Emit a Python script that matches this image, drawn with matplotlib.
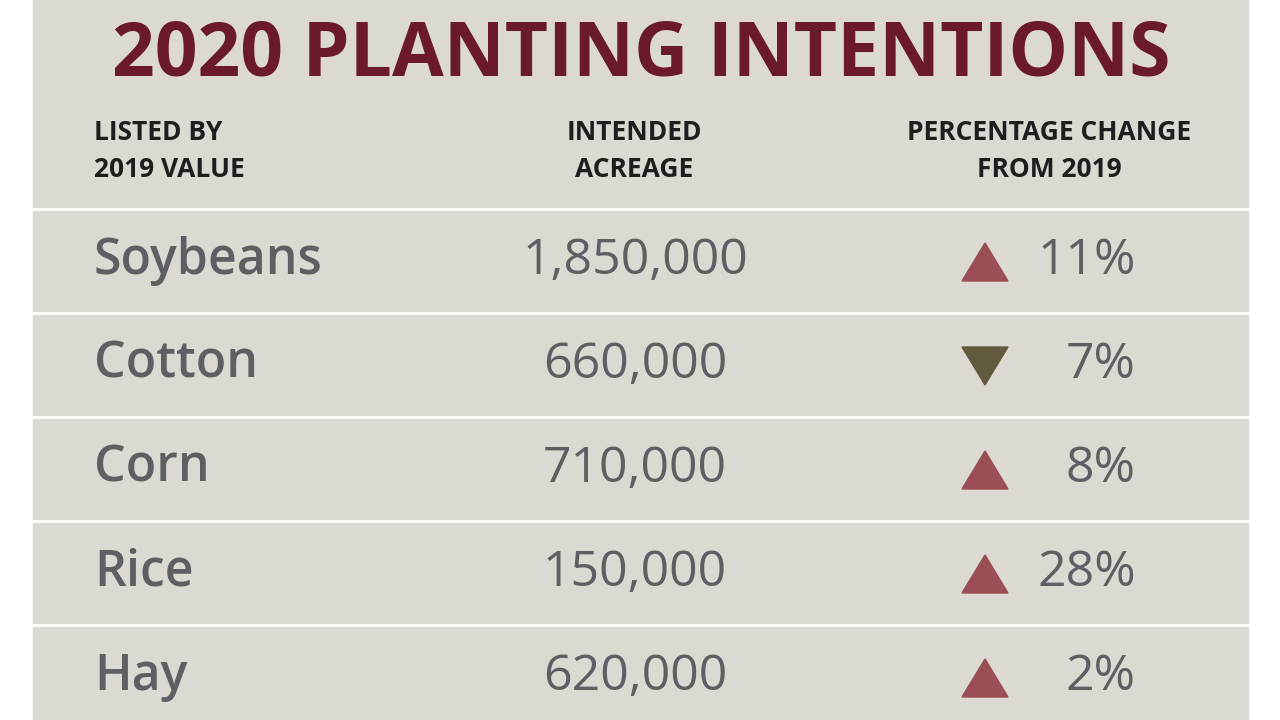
import matplotlib.pyplot as plt
from matplotlib.patches import Rectangle, Polygon

crops = ["Soybeans", "Cotton", "Corn", "Rice", "Hay"]
acreage = ["1,850,000", "660,000", "710,000", "150,000", "620,000"]
pct_change = [11, -7, 8, 28, 2]

title = "2020 PLANTING INTENTIONS"
headers = ["LISTED BY\n2019 VALUE", "INTENDED\nACREAGE", "PERCENTAGE CHANGE\nFROM 2019"]

panel = "#dcd8d2"
maroon = "#6b1a2e"
up_col = "#9a4e56"
down_col = "#625a3f"
text_gray = "#5f5f63"

fig = plt.figure(figsize=(12.8, 7.2), dpi=100)
ax = fig.add_axes([0, 0, 1, 1])
ax.set_xlim(0, 1280)
ax.set_ylim(720, 0)
ax.axis("off")

# header block
ax.add_patch(Rectangle((33, 0), 1215, 207, color=panel))
ax.text(641, 56, title, ha="center", va="center", fontsize=54,
        fontweight="bold", color=maroon, family="Open Sans")
hdr = dict(va="center", fontsize=19, fontweight="bold", color="#1e1e1e",
           family="Open Sans", linespacing=1.45)
ax.text(94, 151, headers[0], ha="left", **hdr)
ax.text(634, 151, headers[1], ha="center", **hdr)
ax.text(1049, 151, headers[2], ha="center", **hdr)

row_h = 104
for i, (crop, acres, pct) in enumerate(zip(crops, acreage, pct_change)):
    top = 211 + i * row_h
    ax.add_patch(Rectangle((33, top), 1215, row_h - 4, color=panel))
    cy = top + 50
    ax.text(94, cy, crop, ha="left", va="center", fontsize=36,
            fontweight="semibold", color=text_gray, family="Open Sans")
    ax.text(635, cy, acres, ha="center", va="center", fontsize=36,
            color=text_gray, family="Open Sans")
    ax.text(1136, cy, f"{abs(pct)}%", ha="right", va="center", fontsize=36,
            color=text_gray, family="Open Sans")
    if pct >= 0:
        tri = [(962, cy + 20), (1008, cy + 20), (985, cy - 18)]
        col = up_col
    else:
        tri = [(962, cy - 18), (1008, cy - 18), (985, cy + 20)]
        col = down_col
    ax.add_patch(Polygon(tri, closed=True, color=col))

fig.savefig("out.png", dpi=100, facecolor="white")
